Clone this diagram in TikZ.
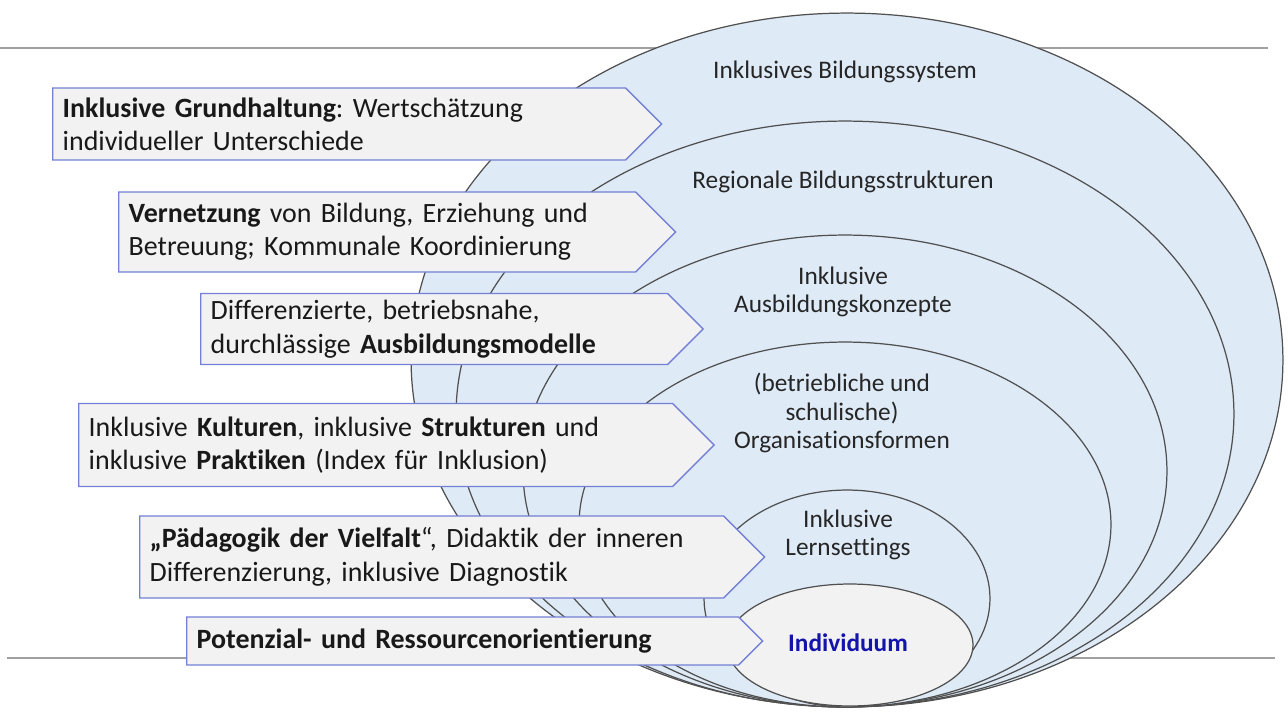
\documentclass[tikz,border=0pt]{standalone}
\usepackage{fontspec}
\setmainfont{Carlito}[Ligatures=NoCommon]
\usetikzlibrary{shapes.geometric,shapes.symbols}
\definecolor{shellblue}{RGB}{222,234,246}
\definecolor{shellline}{RGB}{80,80,80}
\definecolor{boxfill}{RGB}{242,242,242}
\definecolor{boxline}{RGB}{116,128,214}
\definecolor{rulegray}{RGB}{160,160,160}
\definecolor{indblue}{RGB}{20,20,170}
\tikzset{
    shell/.style={ellipse,draw=shellline,fill=shellblue,line width=0.7pt,inner sep=0pt},
    core/.style={shell,fill=boxfill},
    lbl/.style={align=center,text=black!85,font=\fontsize{14.4}{16}\selectfont},
    arrowbox/.style={signal,signal to=east,signal from=nowhere,signal pointer angle=90,draw=boxline,fill=boxfill,line width=0.8pt,inner xsep=0.2cm,inner ysep=0pt,align=left,anchor=west,text=black!90,font=\fontsize{15.9}{19}\selectfont},
    hline/.style={draw=rulegray,line width=1pt}
}
\frenchspacing

\begin{document}
\begin{tikzpicture}[x=0.02cm,y=-0.02cm]
    \useasboundingbox (0,0) rectangle (1288,718);
    \draw[hline] (0,48) -- (1268,48);
    \draw[hline] (7,658) -- (1275,658);
    \node[shell,minimum width=17.44cm,minimum height=13.88cm] (system) at (847,360) {};
    \node[shell,minimum width=15.56cm,minimum height=11.72cm] (region) at (845,414) {};
    \node[shell,minimum width=12.88cm,minimum height=9.44cm] (ausb) at (845,471) {};
    \node[shell,minimum width=10.64cm,minimum height=7.3cm] (orga) at (845,524.5) {};
    \node[shell,minimum width=5.72cm,minimum height=4.34cm] (lern) at (847,598.5) {};
    \node[core,minimum width=4.92cm,minimum height=2.44cm] (indiv) at (850,645) {};
    \node[arrowbox,minimum height=1.44cm,text width=11.06cm] (haltung) at (52,124) {\textbf{Inklusive Grundhaltung}: Wertschätzung\\individueller Unterschiede};
    \node[arrowbox,minimum height=1.6cm,text width=9.94cm] (netz) at (118,232) {\textbf{Vernetzung} von Bildung, Erziehung und\\Betreuung; Kommunale Koordinierung};
    \node[arrowbox,minimum height=1.42cm,text width=8.94cm] (modell) at (200,329) {Differenzierte, betriebsnahe,\\durchlässige \textbf{Ausbildungsmodelle}};
    \node[arrowbox,minimum height=1.66cm,text width=11.48cm] (kultur) at (78,445) {Inklusive \textbf{Kulturen}, inklusive \textbf{Strukturen} und\\inklusive \textbf{Praktiken} (Index für Inklusion)};
    \node[arrowbox,minimum height=1.64cm,text width=11.28cm] (vielfalt) at (139,557) {\textbf{„Pädagogik der Vielfalt}“, Didaktik der inneren\\Differenzierung, inklusive Diagnostik};
    \node[arrowbox,minimum height=0.96cm,text width=10.64cm] (potenzial) at (186,641) {\textbf{Potenzial- und Ressourcenorientierung}};
    \node[lbl] (tsystem) at (845,72) {Inklusives Bildungssystem};
    \node[lbl] (tregion) at (843,182) {Regionale Bildungsstrukturen};
    \node[lbl] (tausb) at (843,292) {Inklusive\\Ausbildungskonzepte};
    \node[lbl] (torga) at (842,413) {(betriebliche und\\schulische)\\Organisationsformen};
    \node[lbl] (tlern) at (848,535) {Inklusive\\Lernsettings};
    \node[lbl,text=indblue,font=\bfseries\fontsize{14.4}{16}\selectfont] (tindiv) at (848,643) {Individuum};
\end{tikzpicture}
\end{document}
